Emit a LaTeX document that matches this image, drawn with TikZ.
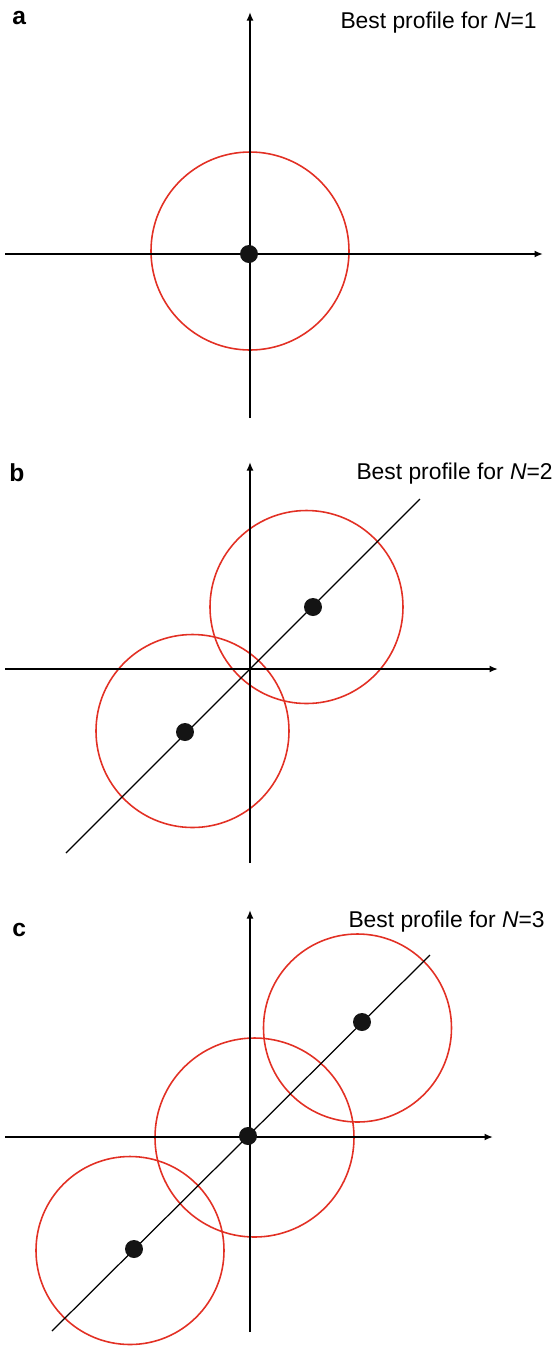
\documentclass[tikz,border=0pt]{standalone}
\usepackage{fontspec}
\setmainfont{Liberation Sans}
\usepackage{xcolor}
\usepackage{tikz}
\usetikzlibrary{arrows.meta,positioning}
\definecolor{ringred}{RGB}{226,48,36}

\begin{document}
\begin{tikzpicture}[
    x=0.02cm, y=-0.02cm,
    axis/.style={draw=black, line width=1.1pt, -{Latex[length=0.17cm, width=0.14cm]}},
    diag/.style={draw=black, line width=0.7pt},
    ring/.style={draw=ringred, line width=0.9pt},
    dot/.style={circle, fill=black!92, inner sep=0pt, minimum size=0.36cm},
    title/.style={anchor=base east, inner sep=0pt, font=\fontsize{13}{15}\selectfont},
    panel/.style={anchor=base west, inner sep=0pt, font=\fontsize{14}{16}\selectfont\bfseries}
]
    \useasboundingbox (0,0) rectangle (559,1347);

    % Panel a
    \node[panel] (lbl-a) at (12,24) {a};
    \node[title] (ttl-a) at (537,28) {Best profile for \textit{N}=1};
    \coordinate (a-left) at (5,254);
    \coordinate (a-right) at (543,254);
    \coordinate (a-bot) at (250,418);
    \coordinate (a-top) at (250,12);
    \draw[ring] (250,251) circle [radius=99];
    \draw[axis] (a-left) -- (a-right);
    \draw[axis] (a-bot) -- (a-top);
    \node[dot] (a1) at (249,254) {};

    % Panel b
    \node[panel] (lbl-b) at (9,481) {b};
    \node[title] (ttl-b) at (553,479) {Best profile for \textit{N}=2};
    \coordinate (b-left) at (5,669);
    \coordinate (b-right) at (498,669);
    \coordinate (b-bot) at (250,863);
    \coordinate (b-top) at (250,462);
    \coordinate (b-lo) at (66,853);
    \coordinate (b-hi) at (420,499);
    \draw[ring] (192.5,731) circle [radius=96.5];
    \draw[ring] (306.5,607) circle [radius=96.5];
    \draw[axis] (b-left) -- (b-right);
    \draw[axis] (b-bot) -- (b-top);
    \draw[diag] (b-lo) -- (b-hi);
    \node[dot] (b1) at (185,732) {};
    \node[dot] (b2) at (313,607) {};

    % Panel c
    \node[panel] (lbl-c) at (12,936) {c};
    \node[title] (ttl-c) at (545,927) {Best profile for \textit{N}=3};
    \coordinate (c-left) at (5,1137);
    \coordinate (c-right) at (493,1137);
    \coordinate (c-bot) at (250,1332);
    \coordinate (c-top) at (250,910);
    \coordinate (c-lo) at (52,1331);
    \coordinate (c-hi) at (430,955);
    \draw[ring] (130,1250.5) circle [radius=94];
    \draw[ring] (254.5,1137.5) circle [radius=99.5];
    \draw[ring] (357.5,1028) circle [radius=94];
    \draw[axis] (c-left) -- (c-right);
    \draw[axis] (c-bot) -- (c-top);
    \draw[diag] (c-lo) -- (c-hi);
    \node[dot] (c1) at (134,1249) {};
    \node[dot] (c2) at (248,1136) {};
    \node[dot] (c3) at (362,1022) {};
\end{tikzpicture}
\end{document}
